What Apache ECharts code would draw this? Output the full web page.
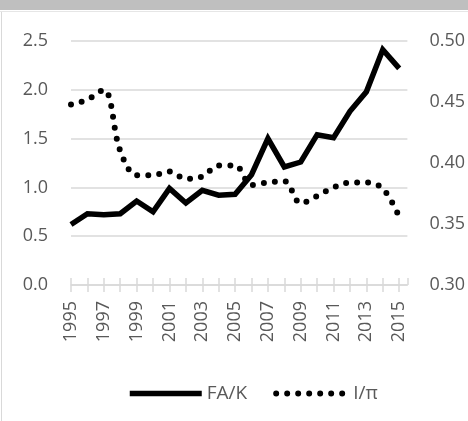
<!DOCTYPE html>
<html>
<head>
<meta charset="utf-8">
<script src="https://cdn.jsdelivr.net/npm/echarts@6/dist/echarts.min.js"></script>
<style>
  html, body { margin: 0; padding: 0; background: #fff; }
  #chart { width: 468px; height: 421px; }
</style>
</head>
<body>
<div id="chart"></div>
<script>
// years on the x axis
const years = [1995, 1996, 1997, 1998, 1999, 2000, 2001, 2002, 2003, 2004, 2005,
  2006, 2007, 2008, 2009, 2010, 2011, 2012, 2013, 2014, 2015]
// FA/K, left axis
const faK = [0.62, 0.73, 0.72, 0.73, 0.86, 0.75, 0.99, 0.84, 0.97, 0.92, 0.93,
  1.13, 1.50, 1.21, 1.26, 1.54, 1.51, 1.78, 1.98, 2.41, 2.22]
// I/pi, right axis
const iPi = [0.448, 0.452, 0.460, 0.410, 0.390, 0.390, 0.393, 0.387, 0.389, 0.398, 0.398,
  0.382, 0.384, 0.385, 0.367, 0.373, 0.380, 0.384, 0.384, 0.379, 0.356]
const leftTicks = [0, 0.5, 1.0, 1.5, 2.0, 2.5]
const rightTicks = [0.30, 0.35, 0.40, 0.45, 0.50]

const FONT = 'Open Sans'
const LABEL_COLOR = '#595959'
const LINE_COLOR = '#d9d9d9'

const chart = echarts.init(document.getElementById('chart'))

const pairs = (vals) => vals.map((v, i) => [years[i], v])

const solidStyle = { color: '#000', width: 5.5, join: 'miter' }
const dotStyle = { color: '#000', width: 6, type: [0, 11], cap: 'round' }

const option = {
  animation: false,
  backgroundColor: '#fff',
  textStyle: { fontFamily: FONT },
  graphic: [
    // grey header strip (title cut off)
    { type: 'rect', shape: { x: 0, y: 0, width: 468, height: 10 }, style: { fill: '#bfbfbf' } },
    { type: 'rect', shape: { x: 0, y: 11, width: 468, height: 1 }, style: { fill: '#e6e6e6' } },
    // left frame edge
    { type: 'rect', shape: { x: 1, y: 12, width: 1, height: 409 }, style: { fill: '#d9d9d9' } }
  ],
  grid: {
    left: 71,
    right: 58,
    top: 41,
    bottom: 136
  },
  legend: {
    top: 379,
    left: 122,
    itemWidth: 72,
    itemHeight: 18,
    itemGap: 26,
    itemStyle: { color: 'transparent', borderWidth: 0 },
    textStyle: { color: LABEL_COLOR, fontSize: 19, fontFamily: FONT },
    data: [
      { name: 'FA/K', lineStyle: solidStyle },
      { name: 'I/π', lineStyle: dotStyle }
    ]
  },
  xAxis: [
    {
      type: 'value',
      min: years[0],
      max: years[years.length - 1] + 0.5,
      interval: 1,
      axisLine: { show: true, lineStyle: { color: LINE_COLOR, width: 1.5 } },
      axisTick: { show: true, length: 7, lineStyle: { color: LINE_COLOR, width: 1.5 } },
      splitLine: { show: false },
      axisLabel: {
        rotate: 90,
        margin: 16,
        color: LABEL_COLOR,
        fontSize: 18,
        fontFamily: FONT,
        showMaxLabel: false,
        formatter: (v) => (v % 2 === 1 && Number.isInteger(v) ? String(v) : '')
      }
    },
    {
      type: 'value',
      position: 'bottom',
      offset: 0,
      min: years[0],
      max: years[years.length - 1] + 0.5,
      interval: 1,
      axisLine: { show: false },
      axisTick: { show: true, inside: true, length: 7, lineStyle: { color: LINE_COLOR, width: 1.5 } },
      axisLabel: { show: false },
      splitLine: { show: false }
    }
  ],
  yAxis: [
    {
      type: 'value',
      min: leftTicks[0],
      max: leftTicks[leftTicks.length - 1],
      interval: 0.5,
      axisLine: { show: false },
      axisTick: { show: false },
      axisLabel: {
        margin: 23,
        color: LABEL_COLOR,
        fontSize: 18,
        fontFamily: FONT,
        formatter: (v) => v.toFixed(1)
      },
      splitLine: { show: true, lineStyle: { color: LINE_COLOR, width: 1.5 } }
    },
    {
      type: 'value',
      min: rightTicks[0],
      max: rightTicks[rightTicks.length - 1],
      interval: 0.05,
      axisLine: { show: false },
      axisTick: { show: false },
      splitLine: { show: false },
      axisLabel: {
        margin: 22,
        color: LABEL_COLOR,
        fontSize: 18,
        fontFamily: FONT,
        formatter: (v) => v.toFixed(2)
      }
    }
  ],
  series: [
    {
      name: 'FA/K',
      type: 'line',
      xAxisIndex: 0,
      yAxisIndex: 0,
      data: pairs(faK),
      symbol: 'none',
      itemStyle: { color: '#000' },
      lineStyle: solidStyle,
      z: 3
    },
    {
      name: 'I/π',
      type: 'line',
      xAxisIndex: 0,
      yAxisIndex: 1,
      data: pairs(iPi),
      symbol: 'none',
      smooth: 0.35,
      itemStyle: { color: '#000' },
      lineStyle: dotStyle,
      z: 2
    }
  ]
}

chart.setOption(option)
</script>
</body>
</html>
